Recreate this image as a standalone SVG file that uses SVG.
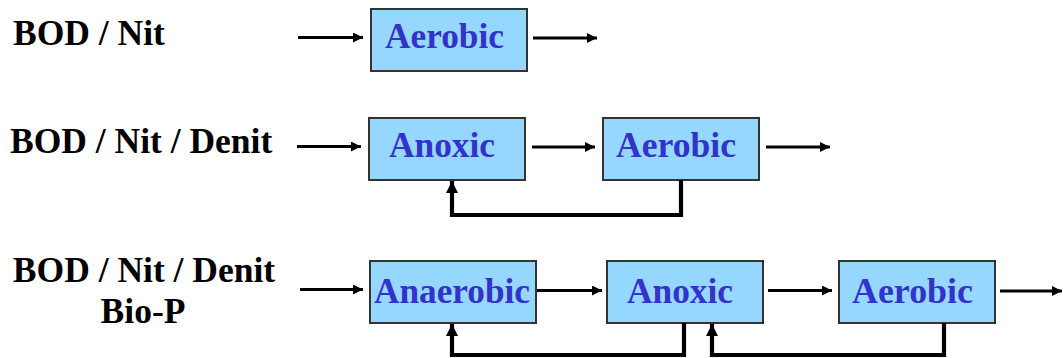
<svg xmlns="http://www.w3.org/2000/svg" width="1063" height="358" viewBox="0 0 1063 358">
<style>
text{font-family:'Liberation Serif','Times New Roman',Times,'Nimbus Roman','Nimbus Roman No9 L',FreeSerif,'Noto Serif','DejaVu Serif',serif}
.box{fill:#96D7FF;stroke:#333333;stroke-width:2}
.bt{font-weight:bold;font-size:36px;fill:#3333CC}
.lb{font-weight:bold;font-size:35.5px;fill:#000000}
.thin{stroke:#000;stroke-width:2.8;fill:none;marker-end:url(#ah)}
.thick{stroke:#000;stroke-width:4.2;fill:none;marker-end:url(#ahb)}
</style>
<defs>
<marker id="ah" markerUnits="userSpaceOnUse" markerWidth="12" markerHeight="12" refX="10" refY="5" orient="auto">
<path d="M0,0 L10,5 L0,10 z" fill="#000"/>
</marker>
<marker id="ahb" markerUnits="userSpaceOnUse" markerWidth="14" markerHeight="14" refX="12" refY="6" orient="auto">
<path d="M0,0 L12,6 L0,12 z" fill="#000"/>
</marker>
</defs>
<rect width="1063" height="358" fill="#ffffff"/>
<g id="labels">
<text class="lb" x="13" y="45">BOD / Nit</text>
<text class="lb" x="10" y="153">BOD / Nit / Denit</text>
<text class="lb" x="144" y="282" text-anchor="middle">BOD / Nit / Denit</text>
<text class="lb" x="143" y="323" text-anchor="middle">Bio-P</text>
</g>
<g id="r1-aerobic">
<rect class="box" x="371" y="9" width="156" height="62"/>
<text class="bt" x="385" y="48" textLength="119" lengthAdjust="spacingAndGlyphs">Aerobic</text>
</g>
<g id="r2-anoxic">
<rect class="box" x="369" y="118" width="156" height="62"/>
<text class="bt" x="389" y="157" textLength="106" lengthAdjust="spacingAndGlyphs">Anoxic</text>
</g>
<g id="r2-aerobic">
<rect class="box" x="603" y="118" width="156" height="62"/>
<text class="bt" x="616" y="157" textLength="120" lengthAdjust="spacingAndGlyphs">Aerobic</text>
</g>
<g id="r3-anaerobic">
<rect class="box" x="370" y="261" width="166" height="62"/>
<text class="bt" x="374" y="303" textLength="156" lengthAdjust="spacingAndGlyphs">Anaerobic</text>
</g>
<g id="r3-anoxic">
<rect class="box" x="607" y="261" width="156" height="62"/>
<text class="bt" x="627" y="303" textLength="106" lengthAdjust="spacingAndGlyphs">Anoxic</text>
</g>
<g id="r3-aerobic">
<rect class="box" x="839" y="261" width="156" height="62"/>
<text class="bt" x="852" y="303" textLength="121" lengthAdjust="spacingAndGlyphs">Aerobic</text>
</g>
<g id="connectors">
<line class="thin" x1="298" y1="37.5" x2="363" y2="37.5"/>
<line class="thin" x1="533" y1="38" x2="597" y2="38"/>
<line class="thin" x1="297" y1="146.5" x2="361" y2="146.5"/>
<line class="thin" x1="532" y1="147" x2="595" y2="147"/>
<line class="thin" x1="766" y1="147" x2="830" y2="147"/>
<polyline class="thick" points="681,180 681,215 452,215 452,181"/>
<line class="thin" x1="300" y1="289.5" x2="363" y2="289.5"/>
<line class="thin" x1="537" y1="290.5" x2="602" y2="290.5"/>
<line class="thin" x1="768" y1="290.5" x2="832" y2="290.5"/>
<line class="thin" x1="1000" y1="291" x2="1062" y2="291"/>
<polyline class="thick" points="684,323 684,355 452,355 452,324"/>
<polyline class="thick" points="944,323 944,355 712,355 712,324"/>
</g>
</svg>
